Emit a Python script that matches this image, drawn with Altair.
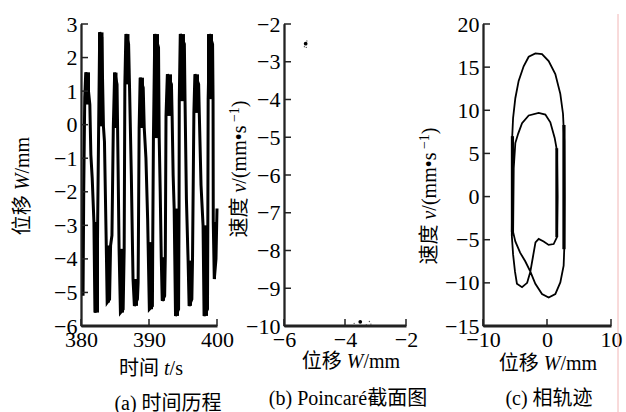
import altair as alt
import pandas as pd

SERIF = "Liberation Serif"
CJK = "Noto Sans CJK SC"
LABEL_SIZE = 22
TITLE_SIZE = 20
AXIS_COLOR = "#222222"
AXIS_W = 1.8

# ---------------- panel (a): time history ----------------
a_trace_t = [380.30, 380.40, 380.55, 380.70, 380.95, 381.30, 381.45, 381.65, 381.90, 382.05,
             382.35, 382.45, 382.60, 382.75, 383.05, 383.30, 383.45, 383.70, 383.85, 384.20,
             384.35, 384.55, 384.75, 384.95, 385.30, 385.45, 385.60, 385.80, 386.20, 386.35,
             386.45, 386.60, 387.00, 387.15, 387.40, 387.65, 387.85, 388.30, 388.40, 388.55,
             388.70, 389.15, 389.30, 389.55, 389.80, 390.05, 390.50, 390.55, 390.65, 390.85,
             391.40, 391.50, 391.65, 391.80, 391.95, 392.30, 392.40, 392.50, 392.70, 393.30,
             393.40, 393.55, 393.70, 393.90, 394.35, 394.42, 394.45, 394.60, 395.20, 395.30,
             395.50, 395.75, 395.90, 396.30, 396.40, 396.60, 396.75, 397.30, 397.40, 397.65,
             397.95, 398.10, 398.60, 398.65, 398.70, 398.90, 399.35, 399.42, 399.45, 399.60,
             399.85, 400.00]
a_trace_w = [-5.1, -2.0, 0.8, 1.56, 1.3, 0.6, -0.9, -1.6, -2.9, -5.6,
             -5.4, -2.9, 0.0, 2.75, 2.6, -0.05, -0.5, -3.4, -5.3, -5.2,
             -3.6, -3.3, -0.1, 1.55, 1.2, -1.2, -3.7, -5.6, -5.5, -3.7,
             1.2, 2.7, 2.4, 1.0, -1.5, -4.6, -5.4, -5.2, -4.7, -0.1,
             1.4, 1.1, -0.1, -1.0, -2.8, -5.5, -5.4, -3.5, -0.4, 2.7,
             2.3, -0.4, -2.0, -3.95, -5.25, -5.1, -3.9, 0.26, 1.5, 1.2,
             0.26, -1.5, -2.5, -5.7, -5.5, -2.5, 0.7, 2.7, 2.4, 0.7,
             -2.2, -4.05, -5.4, -5.2, -4.0, 0.35, 1.5, 1.2, 0.3, -1.8,
             -3.0, -5.7, -5.5, -3.0, 0.76, 2.7, 2.4, 0.76, -2.9, -4.6,
             -4.0, -2.5]
# dense (fast-oscillation) bands: start time, end time, low, high, shade
a_band_t0 = [380.07, 380.66, 381.91, 382.50, 383.68, 384.71, 385.59, 386.47, 387.65, 388.53,
             390.00, 390.59, 391.76, 392.50, 393.68, 394.41, 395.74, 396.62, 397.94, 398.53, 399.41]
a_band_t1 = [380.37, 381.32, 382.65, 383.31, 384.26, 385.37, 386.32, 387.13, 388.38, 389.26,
             390.59, 391.47, 392.35, 393.38, 394.41, 395.29, 396.32, 397.35, 398.68, 399.41, 399.85]
a_band_lo = [-5.0, 0.6, -5.6, -0.05, -5.3, -0.1, -5.6, 1.2, -5.4, -0.1,
             -5.5, -0.4, -5.25, 0.26, -5.7, 0.7, -5.4, 0.35, -5.7, 0.76, -4.6]
a_band_hi = [-2.3, 1.56, -2.9, 2.75, -3.6, 1.55, -3.7, 2.7, -4.6, 1.4,
             -3.5, 2.7, -3.95, 1.5, -2.5, 2.7, -4.05, 1.5, -3.0, 2.7, -2.9]
a_band_shade = ["g"] + ["k"] * 20
a_xticks = [380, 390, 400]
a_yticks = [-6, -5, -4, -3, -2, -1, 0, 1, 2, 3]

# ---------------- panel (b): Poincare section ----------------
b_pt_w = [-5.29, -3.50]
b_pt_v = [-2.52, -9.89]
b_speck_w = [-5.25, -5.33, -5.27, -3.20, -3.15, -3.30, -3.70]
b_speck_v = [-2.45, -2.60, -2.62, -9.88, -9.95, -9.97, -9.93]
b_xticks = [-6, -4, -2]
b_yticks = [-10, -9, -8, -7, -6, -5, -4, -3, -2]

# ---------------- panel (c): phase trajectory ----------------
c_w = [-5.20, -4.95, -4.50, -3.90, -2.86, -1.30, -0.26, 0.52, 1.20, 1.56, 1.65, 1.56, 1.04,
       0.26, -0.52, -1.30, -1.80, -2.20, -2.60, -3.10, -3.90, -4.70, -5.00, -5.30, -5.50,
       -5.45, -5.47,
       -5.30, -4.95, -4.43, -3.65, -2.86, -1.82, -0.78, 0.26, 1.30, 2.08, 2.50, 2.70, 2.75,
       2.70, 2.60, 2.08, 1.30, 0.26, -0.78, -1.82, -2.60, -3.40, -4.20, -4.95, -5.30, -5.20]
c_v = [3.3, 6.2, 7.3, 8.5, 9.4, 9.7, 9.5, 8.6, 6.8, 5.3, 0.0, -4.7, -5.5,
       -5.6, -5.2, -4.9, -5.3, -7.0, -8.7, -10.0, -10.5, -10.1, -8.7, -6.7, -4.5,
       0.0, 6.4,
       9.1, 11.4, 13.4, 15.1, 16.2, 16.6, 16.5, 15.7, 14.2, 11.9, 9.6, 6.4, 0.0,
       -6.0, -8.0, -9.95, -11.3, -11.7, -11.3, -10.1, -8.7, -7.5, -6.5, -5.2, -4.1, 3.3]
c_band_w0 = [-5.65, 1.30, 2.40]
c_band_w1 = [-5.15, 1.75, 2.90]
c_band_v0 = [-4.1, -4.7, -6.1]
c_band_v1 = [7.0, 5.6, 8.3]
c_xticks = [-10, 0, 10]
c_yticks = [-15, -10, -5, 0, 5, 10, 15, 20]

# ---------------- texts ----------------
A_XTITLE = [("时间", "cjk"), (" t", "it"), ("/s", "rm")]
W_TITLE = [("位移", "cjk"), (" W", "it"), ("/mm", "rm")]
V_TITLE = [("速度", "cjk"), (" v", "it"), ("/(mm•s", "rm"), (" −1", "sup"), (")", "rm")]
A_CAP = [("(a) ", "rm"), ("时间历程", "cjk")]
B_CAP = [("(b) Poincaré", "rm"), ("截面图", "cjk")]
C_CAP = [("(c) ", "rm"), ("相轨迹", "cjk")]

# ---------------- layout (pixels) ----------------
H = 302
WA, WB, WC = 136, 122, 128
GAP1, GAP2 = 67, 77
TICK = 7

EM = {' ': 0.25, '/': 0.278, '(': 0.333, ')': 0.333, 'm': 0.778, 's': 0.389, 'W': 0.833,
      'v': 0.444, 't': 0.278, 'P': 0.556, 'o': 0.5, 'i': 0.278, 'n': 0.5, 'c': 0.444,
      'a': 0.444, 'r': 0.333, 'é': 0.444, 'b': 0.5, '−': 0.564, '1': 0.5, '•': 0.35}

ONE = pd.DataFrame({"k": [0]})


def piece_size(kind):
    return 14 if kind == "sup" else TITLE_SIZE


def piece_width(text, kind):
    size = piece_size(kind)
    if kind == "cjk":
        return len(text) * size
    return sum(EM.get(ch, 0.5) for ch in text) * size


def text_group(pieces, cx, base, rotated):
    total = sum(piece_width(t, k) for t, k in pieces)
    pos = -total / 2.0
    out = []
    for text, kind in pieces:
        size = piece_size(kind)
        shift = 7 if kind == "sup" else 0
        font = CJK if kind == "cjk" else SERIF
        style = "italic" if kind == "it" else "normal"
        lead = len(text) - len(text.lstrip(" "))
        start = pos + lead * EM[" "] * size
        shown = text.strip(" ")
        if rotated:
            x, y = base - shift, cx - start
        else:
            x, y = cx + start, base - shift
        out.append(
            alt.Chart(ONE).mark_text(
                text=shown, font=font, fontSize=size, fontStyle=style, align="left",
                baseline="alphabetic", angle=270 if rotated else 0, color="black"
            ).encode(x=alt.value(x), y=alt.value(y))
        )
        pos += piece_width(text, kind)
    return out


def make_axis(values, is_y):
    return alt.Axis(values=values, title=None, grid=False, ticks=False, tickSize=0,
                    domain=True, domainColor=AXIS_COLOR, domainWidth=AXIS_W,
                    labelFont=SERIF, labelFontSize=LABEL_SIZE, labelColor="black",
                    labelPadding=4 if is_y else 3, labelFlush=False, labelOverlap=False)


def frame_layers(xvals, yvals, xs, ys, xa, ya, w, h):
    yt = alt.Chart(pd.DataFrame({"tv": yvals})).mark_rule(color=AXIS_COLOR, strokeWidth=1.5).encode(
        y=alt.Y("tv:Q", scale=ys, axis=ya), x=alt.value(0), x2=alt.value(TICK))
    xt = alt.Chart(pd.DataFrame({"tu": xvals})).mark_rule(color=AXIS_COLOR, strokeWidth=1.5).encode(
        x=alt.X("tu:Q", scale=xs, axis=xa), y=alt.value(h), y2=alt.value(h - TICK))
    left = alt.Chart(ONE).mark_rule(color=AXIS_COLOR, strokeWidth=AXIS_W).encode(
        x=alt.value(0.5), y=alt.value(0), y2=alt.value(h))
    bottom = alt.Chart(ONE).mark_rule(color=AXIS_COLOR, strokeWidth=AXIS_W).encode(
        x=alt.value(0), x2=alt.value(w), y=alt.value(h - 0.5))
    return [yt, xt, left, bottom]


# ---------- panel (a) ----------
xs_a = alt.Scale(domain=[380, 400], nice=False, zero=False)
ys_a = alt.Scale(domain=[-6, 3], nice=False, zero=False)
xa_a = make_axis(a_xticks, False)
ya_a = make_axis(a_yticks, True)
df_band_a = pd.DataFrame({"t0": a_band_t0, "t1": a_band_t1, "lo": a_band_lo,
                          "hi": a_band_hi, "shade": a_band_shade})
df_trace_a = pd.DataFrame({"t": a_trace_t, "w": a_trace_w, "i": range(len(a_trace_t))})

bands_a = alt.Chart(df_band_a).mark_rect().encode(
    x=alt.X("t0:Q", scale=xs_a, axis=xa_a), x2="t1:Q",
    y=alt.Y("lo:Q", scale=ys_a, axis=ya_a), y2="hi:Q",
    color=alt.Color("shade:N", scale=alt.Scale(domain=["k", "g"], range=["black", "#b0b0b0"]),
                    legend=None))
line_a = alt.Chart(df_trace_a).mark_line(color="black", strokeWidth=3.0).encode(
    x=alt.X("t:Q", scale=xs_a, axis=xa_a), y=alt.Y("w:Q", scale=ys_a, axis=ya_a),
    order=alt.Order("i:Q"))
anchor = alt.Chart(ONE).mark_rule(color="white", strokeWidth=1).encode(
    x=alt.value(-79.5), x2=alt.value(-78.5), y=alt.value(-22.5))

panel_a = alt.layer(
    bands_a, line_a, *frame_layers(a_xticks, a_yticks, xs_a, ys_a, xa_a, ya_a, WA, H), anchor,
    *text_group(W_TITLE, 162, -52, True),
    *text_group(A_XTITLE, 70, 351, False),
    *text_group(A_CAP, 87, 386, False),
).properties(width=WA, height=H)

# ---------- panel (b) ----------
xs_b = alt.Scale(domain=[-6, -2], nice=False, zero=False)
ys_b = alt.Scale(domain=[-10, -2], nice=False, zero=False)
xa_b = make_axis(b_xticks, False)
ya_b = make_axis(b_yticks, True)
pts_b = alt.Chart(pd.DataFrame({"w": b_pt_w, "v": b_pt_v})).mark_circle(
    color="black", opacity=1, size=14).encode(
    x=alt.X("w:Q", scale=xs_b, axis=xa_b), y=alt.Y("v:Q", scale=ys_b, axis=ya_b))
specks_b = alt.Chart(pd.DataFrame({"w": b_speck_w, "v": b_speck_v})).mark_circle(
    color="#555555", opacity=1, size=2).encode(
    x=alt.X("w:Q", scale=xs_b, axis=xa_b), y=alt.Y("v:Q", scale=ys_b, axis=ya_b))

panel_b = alt.layer(
    pts_b, specks_b, *frame_layers(b_xticks, b_yticks, xs_b, ys_b, xa_b, ya_b, WB, H),
    *text_group(V_TITLE, 145, -38.5, True),
    *text_group(W_TITLE, 67, 344, False),
    *text_group(B_CAP, 64, 381, False),
).properties(width=WB, height=H)

# ---------- panel (c) ----------
xs_c = alt.Scale(domain=[-10, 10], nice=False, zero=False)
ys_c = alt.Scale(domain=[-15, 20], nice=False, zero=False)
xa_c = make_axis(c_xticks, False)
ya_c = make_axis(c_yticks, True)
line_c = alt.Chart(pd.DataFrame({"w": c_w, "v": c_v, "i": range(len(c_w))})).mark_line(
    color="black", strokeWidth=1.8).encode(
    x=alt.X("w:Q", scale=xs_c, axis=xa_c), y=alt.Y("v:Q", scale=ys_c, axis=ya_c),
    order=alt.Order("i:Q"))
bands_c = alt.Chart(pd.DataFrame({"w0": c_band_w0, "w1": c_band_w1, "v0": c_band_v0,
                                  "v1": c_band_v1})).mark_rect(color="black").encode(
    x=alt.X("w0:Q", scale=xs_c, axis=xa_c), x2="w1:Q",
    y=alt.Y("v0:Q", scale=ys_c, axis=ya_c), y2="v1:Q")
pink = alt.Chart(ONE).mark_rule(color="#f2b6b6", strokeWidth=1).encode(
    x=alt.value(WC + 7), y=alt.value(-10), y2=alt.value(H + 95))

panel_c = alt.layer(
    line_c, bands_c, *frame_layers(c_xticks, c_yticks, xs_c, ys_c, xa_c, ya_c, WC, H), pink,
    *text_group(V_TITLE, 172, -47.5, True),
    *text_group(W_TITLE, 65, 346, False),
    *text_group(C_CAP, 66, 381, False),
).properties(width=WC, height=H)

spacer1 = alt.Chart(ONE).mark_point(opacity=0, size=1).properties(width=GAP1, height=H)
spacer2 = alt.Chart(ONE).mark_point(opacity=0, size=1).properties(width=GAP2, height=H)

chart = alt.hconcat(
    panel_a, spacer1, panel_b, spacer2, panel_c, spacing=0, bounds="flush"
).properties(
    padding={"left": 0, "top": 0, "right": 0, "bottom": 0}
).configure_view(stroke="transparent")

chart.save("out.html", embed_options={"renderer": "svg", "actions": False})
